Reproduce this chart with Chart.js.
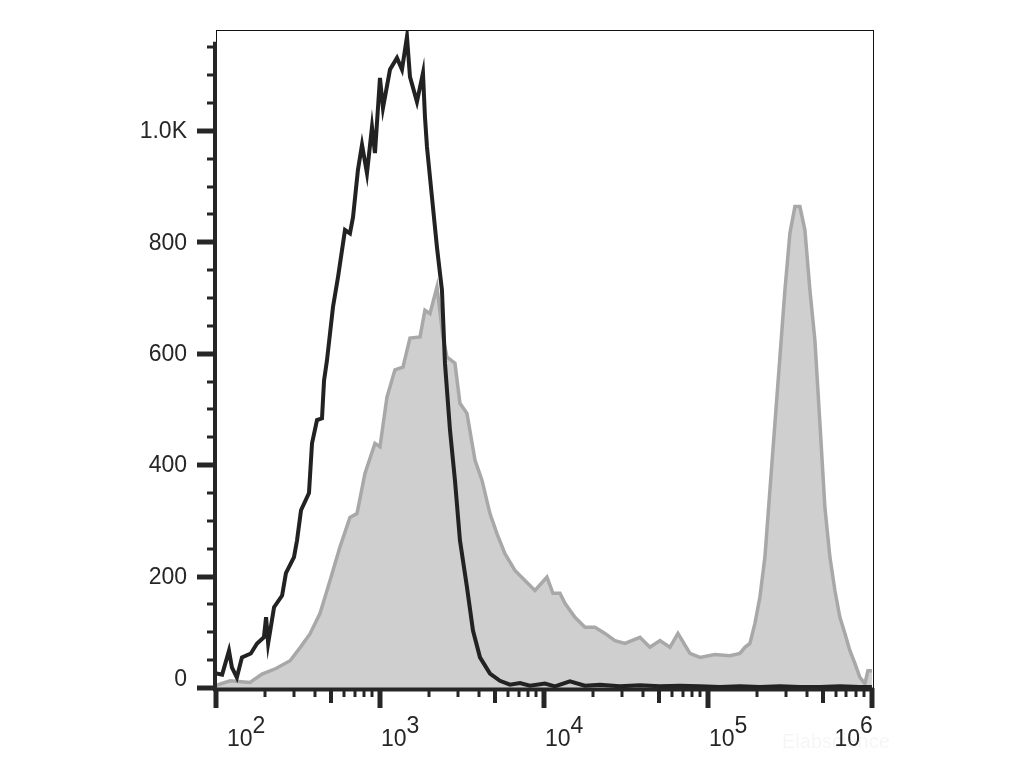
<!DOCTYPE html>
<html>
<head>
<meta charset="utf-8">
<script src="https://cdn.jsdelivr.net/npm/chart.js@4/dist/chart.umd.min.js"></script>
<style>
  html, body { margin: 0; padding: 0; background: #fff; }
  #wrap { position: relative; width: 1031px; height: 773px; }
</style>
</head>
<body>
<div id="wrap"><canvas id="c" width="1031" height="773"></canvas></div>
<script>
'use strict';

// ── data (x = fluorescence, y = count) ──
var blackX = [101,109,120,125,134,144,163,178,196,202,208,226,253,267,299,312,330,369,385,413,443,456,475,517,555,612,656,685,734,777,833,894,932,1000,1043,1151,1270,1362,1461,1524,1681,1829,1881,1935,2075,2226,2388,2491,2673,2866,3074,3392,3691,4073,4686,5392,6202,7139,8214,10140,11670,14400,17780,21950,29070,38490,50970,67500,89400,118400,156700,207500,274800,363900,482000,638000,845000,1000000];
var blackY = [26,24,67,37,19,55,62,80,91,127,80,145,166,206,235,265,319,350,439,481,484,552,588,684,738,822,816,845,930,975,924,1007,960,1095,1041,1110,1131,1110,1169,1097,1052,1104,1025,971,881,791,714,583,463,373,265,181,103,55,26,13,6,9,4,8,3,12,4,6,3,5,3,4,3,2,3,2,3,2,2,3,2,2];

var grayX = [100,122,161,191,232,283,325,374,431,496,570,656,724,810,932,1000,1103,1234,1381,1524,1754,1881,2018,2226,2422,2562,2866,3074,3392,3796,4188,4686,5169,5783,6655,7659,8813,10430,11350,12520,13430,15450,17780,20460,23550,27100,31190,38490,44290,50970,58650,65620,77680,89400,110300,136200,156700,168100,180400,193500,207500,222600,238800,256200,274800,294800,316200,339300,363900,390400,418800,449200,482000,516900,554500,594900,638000,684600,734400,787400,845000,906500,945400,1000000];
var grayY = [5,13,10,25,35,49,72,97,134,193,253,306,313,385,439,433,522,571,576,628,630,678,672,720,630,594,583,511,493,409,373,313,277,241,211,193,175,199,170,170,152,127,109,109,98,85,80,91,73,85,73,98,62,55,60,58,62,73,80,116,163,235,355,475,594,714,816,864,864,822,714,624,475,324,235,175,127,98,67,44,19,8,31,31];

var yLabelVals = [0, 200, 400, 600, 800, 1000];
var yLabelText = ['0', '200', '400', '600', '800', '1.0K'];
var xDecades = [2, 3, 4, 5, 6];

function pts(xs, ys){ return xs.map(function(x, i){ return { x: x, y: ys[i] }; }); }

var FONT = "23px 'Liberation Sans', Arial, sans-serif";
var INK = '#262626';

// ── axes, ticks, labels drawn from the scales ──
var axisPlugin = {
  id: 'flowAxes',
  afterDraw: function(chart){
    var ctx = chart.ctx, a = chart.chartArea;
    var xs = chart.scales.x, ys = chart.scales.y;
    ctx.save();

    // thin frame (top + right)
    ctx.strokeStyle = '#111'; ctx.lineWidth = 1;
    ctx.strokeRect(a.left + 0.5, a.top + 0.5, a.right - a.left - 1, a.bottom - a.top);

    // thick left + bottom axes
    ctx.strokeStyle = INK; ctx.lineCap = 'butt';
    ctx.lineWidth = 4;
    ctx.beginPath();
    ctx.moveTo(a.left - 1, ys.getPixelForValue(1160));
    ctx.lineTo(a.left - 1, a.bottom + 3);
    ctx.stroke();
    ctx.beginPath();
    ctx.moveTo(a.left - 3, a.bottom + 1.5);
    ctx.lineTo(a.right, a.bottom + 1.5);
    ctx.stroke();

    // y ticks every 50
    for(var v = 0; v <= 1150; v += 50){
      var py = Math.round(ys.getPixelForValue(v));
      var major = (v % 200 === 0) || v === 1000;
      ctx.lineWidth = major ? 5 : 3;
      ctx.beginPath();
      ctx.moveTo(a.left - (major ? 19 : 9), py);
      ctx.lineTo(a.left, py);
      ctx.stroke();
    }

    // y labels
    ctx.fillStyle = INK; ctx.font = FONT;
    ctx.textAlign = 'right'; ctx.textBaseline = 'middle';
    yLabelVals.forEach(function(v, i){
      var py = ys.getPixelForValue(v);
      if(v === 0) py -= 9;
      ctx.fillText(yLabelText[i], 187, py + 1);
    });

    // x ticks: decades long, 5x medium, rest short
    for(var d = 2; d <= 6; d++){
      for(var m = 1; m <= 9; m++){
        if(d === 6 && m > 1) break;
        var px = Math.round(xs.getPixelForValue(m * Math.pow(10, d)));
        var len = m === 1 ? 20 : (m === 5 ? 15 : 9);
        ctx.lineWidth = m === 1 ? 5 : (m === 5 ? 4 : 3);
        ctx.beginPath();
        ctx.moveTo(px, a.bottom);
        ctx.lineTo(px, a.bottom + len);
        ctx.stroke();
      }
    }

    // x labels 10^n
    ctx.textAlign = 'left'; ctx.textBaseline = 'alphabetic';
    xDecades.forEach(function(d, i){
      var px = xs.getPixelForValue(Math.pow(10, d));
      var wBase = ctx.measureText('10').width;
      var wSup = ctx.measureText(String(d)).width;
      var x0 = px + 1;
      if(i === 0) x0 = px + 11;
      if(i === xDecades.length - 1) x0 = px - wBase - wSup + 1;
      ctx.fillText('10', x0, 746);
      ctx.fillText(String(d), x0 + wBase, 733);
    });

    // faint watermark
    ctx.fillStyle = 'rgba(0,0,0,0.04)';
    ctx.font = "20px 'Liberation Sans', Arial, sans-serif";
    ctx.fillText('Elabscience', 782, 748);

    ctx.restore();
  }
};

new Chart(document.getElementById('c'), {
  type: 'line',
  data: {
    datasets: [
      {
        label: 'control',
        data: pts(blackX, blackY),
        borderColor: '#222222',
        borderWidth: 4,
        pointRadius: 0,
        tension: 0,
        fill: false
      },
      {
        label: 'stained',
        data: pts(grayX, grayY),
        borderColor: '#a8a8a8',
        backgroundColor: '#cfcfcf',
        borderWidth: 3.5,
        pointRadius: 0,
        tension: 0,
        fill: 'origin'
      }
    ]
  },
  options: {
    responsive: false,
    animation: false,
    layout: { padding: { left: 216, right: 157, top: 30, bottom: 85 } },
    plugins: { legend: { display: false }, tooltip: { enabled: false } },
    scales: {
      x: { type: 'logarithmic', min: 100, max: 1030000, display: false },
      y: { type: 'linear', min: 0, max: 1181, display: false }
    }
  },
  plugins: [axisPlugin]
});
</script>
</body>
</html>
